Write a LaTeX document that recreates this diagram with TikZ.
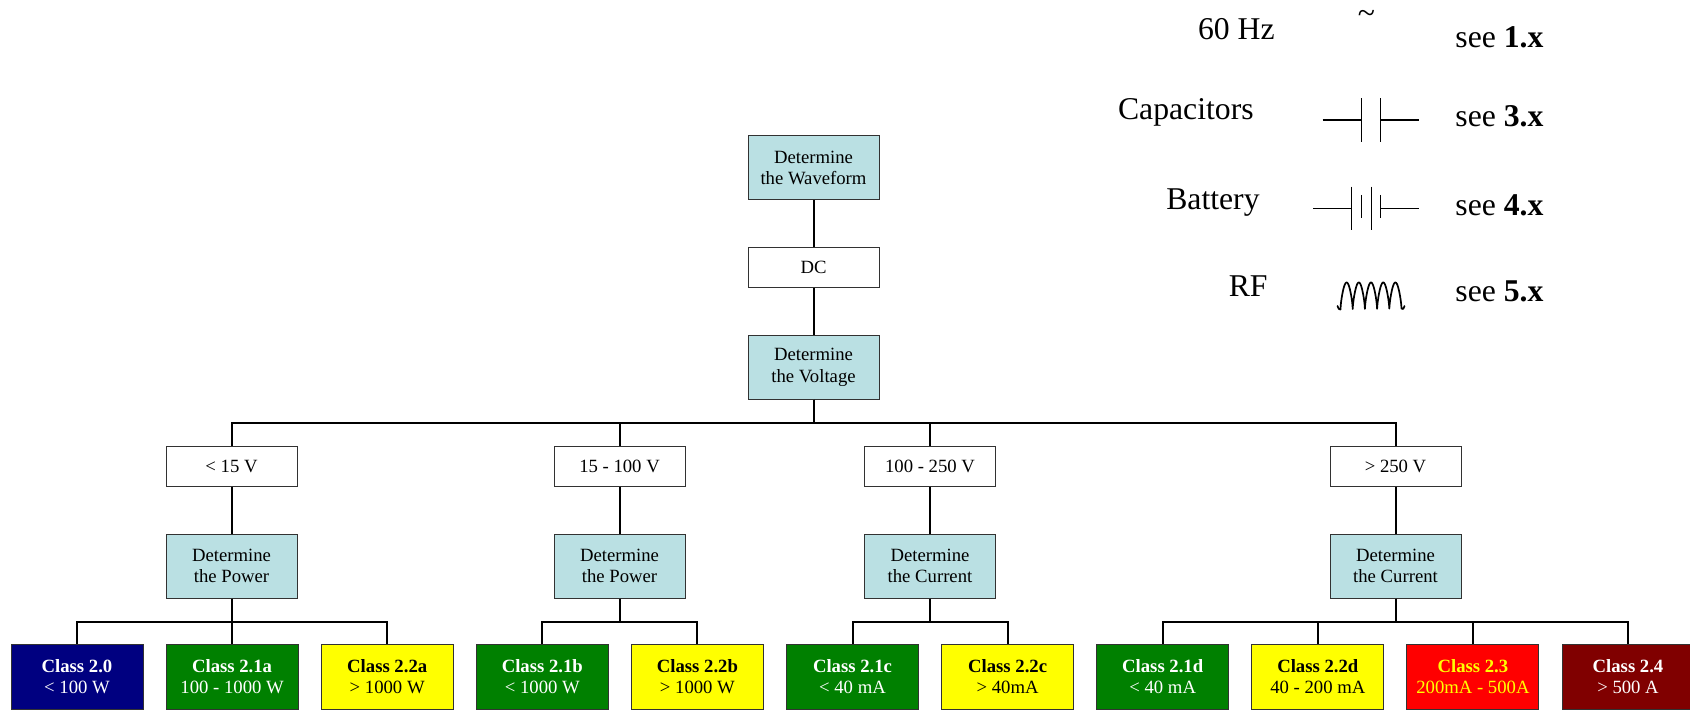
\documentclass[tikz,border=0pt]{standalone}
\usepackage{fontspec}
\setmainfont{Liberation Serif}
\definecolor{lblue}{RGB}{186,224,227}
\definecolor{cnavy}{RGB}{0,0,128}
\definecolor{cgreen}{RGB}{0,128,0}
\definecolor{cyellow}{RGB}{255,255,0}
\definecolor{cred}{RGB}{255,0,0}
\definecolor{cdred}{RGB}{128,0,0}
\definecolor{bord}{RGB}{50,50,50}
\begin{document}
\begin{tikzpicture}[x=0.5pt,y=-0.5pt,
  base/.style={draw=bord,line width=0.5pt,inner sep=0pt,align=center,
    minimum width=65.5pt,font=\fontsize{9.35}{10.85}\selectfont},
  qbox/.style={base,fill=lblue,minimum height=32pt},
  wbox/.style={base,fill=white,minimum height=20pt},
  cbox/.style={base,minimum width=66pt,minimum height=32.5pt},
  conn/.style={line width=1pt,draw=black},
  leg/.style={font=\fontsize{15.85}{18}\selectfont,inner sep=0pt},
  sym/.style={line width=0.7pt}]
\useasboundingbox (0,0) rectangle (1690,711);
\fill[white] (0,0) rectangle (1690,711);

% main chain
\node[qbox] (wave) at (813.5,168) {Determine\\the Waveform};
\node[wbox] (dc) at (813.5,267) {DC};
\node[qbox] (volt) at (813.5,367) {Determine\\the Voltage};

% level 2
\node[wbox] (v1) at (231.5,466) {< 15 V};
\node[wbox] (v2) at (619.5,466) {15 - 100 V};
\node[wbox] (v3) at (930,466) {100 - 250 V};
\node[wbox] (v4) at (1395.5,466) {> 250 V};

\node[qbox] (d1) at (231.5,566) {Determine\\the Power};
\node[qbox] (d2) at (619.5,566) {Determine\\the Power};
\node[qbox] (d3) at (930,566) {Determine\\the Current};
\node[qbox] (d4) at (1395.5,566) {Determine\\the Current};

% bottom classes
\node[cbox,fill=cnavy,text=white] (c1) at (77,676.5) {\textbf{Class 2.0}\\< 100 W};
\node[cbox,fill=cgreen,text=white] (c2) at (232.1,676.5) {\textbf{Class 2.1a}\\100 - 1000 W};
\node[cbox,fill=cyellow,text=black] (c3) at (387.2,676.5) {\textbf{Class 2.2a}\\> 1000 W};
\node[cbox,fill=cgreen,text=white] (c4) at (542.3,676.5) {\textbf{Class 2.1b}\\< 1000 W};
\node[cbox,fill=cyellow,text=black] (c5) at (697.4,676.5) {\textbf{Class 2.2b}\\> 1000 W};
\node[cbox,fill=cgreen,text=white] (c6) at (852.5,676.5) {\textbf{Class 2.1c}\\< 40 mA};
\node[cbox,fill=cyellow,text=black] (c7) at (1007.6,676.5) {\textbf{Class 2.2c}\\> 40mA};
\node[cbox,fill=cgreen,text=white] (c8) at (1162.7,676.5) {\textbf{Class 2.1d}\\< 40 mA};
\node[cbox,fill=cyellow,text=black] (c9) at (1317.8,676.5) {\textbf{Class 2.2d}\\40 - 200 mA};
\node[cbox,fill=cred,text=cyellow] (c10) at (1472.9,676.5) {\textbf{Class 2.3}\\200mA - 500A};
\node[cbox,fill=cdred,text=white] (c11) at (1628,676.5) {\textbf{Class 2.4}\\> 500 A};

% connectors
\draw[conn] (wave.south) -- (dc.north);
\draw[conn] (dc.south) -- (volt.north);
\foreach \v in {v1,v2,v3,v4}{
  \draw[conn] (volt.south) -- ++(0,23) -| (\v.north);
}
\draw[conn] (v1.south) -- (d1.north);
\draw[conn] (v2.south) -- (d2.north);
\draw[conn] (v3.south) -- (d3.north);
\draw[conn] (v4.south) -- (d4.north);
\foreach \c in {c1,c2,c3}{\draw[conn] (d1.south) -- ++(0,23.5) -| (\c.north);}
\foreach \c in {c4,c5}{\draw[conn] (d2.south) -- ++(0,23.5) -| (\c.north);}
\foreach \c in {c6,c7}{\draw[conn] (d3.south) -- ++(0,23.5) -| (\c.north);}
\foreach \c in {c8,c9,c10,c11}{\draw[conn] (d4.south) -- ++(0,23.5) -| (\c.north);}

% legend
\node[leg,anchor=base east] (l1) at (1275,40) {60 Hz};
\node[leg,anchor=base] (s1) at (1366.5,24) {\textasciitilde};
\node[leg,anchor=base west] (r1) at (1455,47.7) {see \textbf{1.x}};

\node[leg,anchor=base east] (l2) at (1254,120) {Capacitors};
\node[leg,anchor=base west] (r2) at (1455,126.7) {see \textbf{3.x}};
\draw[sym] (1322.7,120) -- (1361.7,120);
\draw[sym] (1361.7,98.3) -- (1361.7,141.7);
\draw[sym] (1380.7,98.3) -- (1380.7,141.7);
\draw[sym] (1380.7,120) -- (1419.3,120);

\node[leg,anchor=base east] (l3) at (1260,210) {Battery};
\node[leg,anchor=base west] (r3) at (1455,215) {see \textbf{4.x}};
\draw[sym] (1313.3,208.3) -- (1351.7,208.3);
\draw[sym] (1351.7,186.7) -- (1351.7,230);
\draw[sym] (1361.7,195) -- (1361.7,218.3);
\draw[sym] (1371.7,186.7) -- (1371.7,230);
\draw[sym] (1380.7,195) -- (1380.7,218.3);
\draw[sym] (1380.7,208.3) -- (1419.3,208.3);

\node[leg,anchor=base east] (l4) at (1268,296) {RF};
\node[leg,anchor=base west] (r4) at (1455,301.7) {see \textbf{5.x}};
\draw[sym,line width=0.85pt,line join=round,line cap=round]
  (1337.5,306) .. controls (1338.5,309) and (1339.5,310) .. (1340.5,309.5)
  plot[domain=0:5,samples=301] ({1340.5+12.2*\x},{309.5-27*(0.45*abs(sin(180*\x))+0.55*sqrt(abs(sin(180*\x))))})
  .. controls (1402.5,310) and (1403.5,309) .. (1404.5,306);
\end{tikzpicture}
\end{document}
